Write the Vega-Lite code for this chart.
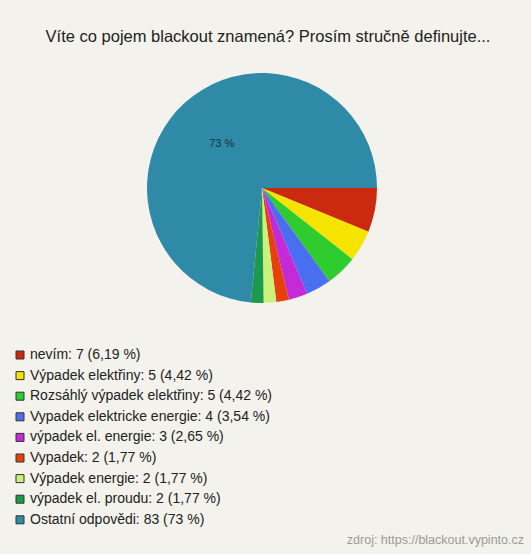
{
  "$schema": "https://vega.github.io/schema/vega-lite/v6.json",
  "background": "#f3f2ec",
  "padding": {"left": 0, "top": 28, "right": 7, "bottom": 9},
  "title": {
    "text": "Víte co pojem blackout znamená? Prosím stručně definujte...",
    "font": "Liberation Sans",
    "fontSize": 16.5,
    "fontWeight": "normal",
    "color": "#222222",
    "anchor": "middle",
    "offset": 13,
    "dx": 6
  },
  "config": {"view": {"stroke": null}, "font": "Liberation Sans"},
  "vconcat": [
    {
      "width": 524,
      "height": 260,
      "title": {
        "text": "zdroj: https://blackout.vypinto.cz",
        "orient": "bottom",
        "anchor": "end",
        "frame": "group",
        "font": "Liberation Sans",
        "fontSize": 12.5,
        "fontWeight": "normal",
        "color": "#9a9a9a",
        "offset": 216
      },
      "data": {
        "values": [
          {"idx": 1, "label": "nevím: 7 (6,19 %)", "count": 7, "lbl": ""},
          {"idx": 2, "label": "Výpadek elektřiny: 5 (4,42 %)", "count": 5, "lbl": ""},
          {"idx": 3, "label": "Rozsáhlý výpadek elektřiny: 5 (4,42 %)", "count": 5, "lbl": ""},
          {"idx": 4, "label": "Vypadek elektricke energie: 4 (3,54 %)", "count": 4, "lbl": ""},
          {"idx": 5, "label": "výpadek el. energie: 3 (2,65 %)", "count": 3, "lbl": ""},
          {"idx": 6, "label": "Vypadek: 2 (1,77 %)", "count": 2, "lbl": ""},
          {"idx": 7, "label": "Výpadek energie: 2 (1,77 %)", "count": 2, "lbl": ""},
          {"idx": 8, "label": "výpadek el. proudu: 2 (1,77 %)", "count": 2, "lbl": ""},
          {"idx": 9, "label": "Ostatní odpovědi: 83 (73 %)", "count": 83, "lbl": "73 %"}
        ]
      },
      "encoding": {
        "theta": {"field": "count", "type": "quantitative", "stack": true, "scale": {"range": [1.5708, 7.854]}},
        "order": {"field": "idx", "type": "quantitative"}
      },
      "layer": [
        {
          "mark": {"type": "arc", "outerRadius": 115},
          "encoding": {
            "color": {
              "field": "label",
              "type": "nominal",
              "sort": null,
              "scale": {
                "domain": [
                  "nevím: 7 (6,19 %)",
                  "Výpadek elektřiny: 5 (4,42 %)",
                  "Rozsáhlý výpadek elektřiny: 5 (4,42 %)",
                  "Vypadek elektricke energie: 4 (3,54 %)",
                  "výpadek el. energie: 3 (2,65 %)",
                  "Vypadek: 2 (1,77 %)",
                  "Výpadek energie: 2 (1,77 %)",
                  "výpadek el. proudu: 2 (1,77 %)",
                  "Ostatní odpovědi: 83 (73 %)"
                ],
                "range": ["#cc2a10", "#f5e400", "#2ecc2e", "#4a6ef0", "#c42ad8", "#e8400c", "#c8f27a", "#1a9a4a", "#2e8aa6"]
              },
              "legend": {
                "orient": "none",
                "legendX": 13,
                "legendY": 290,
                "title": null,
                "symbolType": "square",
                "symbolSize": 64,
                "symbolStrokeColor": "#333333",
                "symbolStrokeWidth": 1,
                "symbolOpacity": 1,
                "labelFont": "Liberation Sans",
                "labelFontSize": 14,
                "labelColor": "#222222",
                "labelOffset": 3,
                "labelLimit": 400,
                "rowPadding": 6.6
              }
            }
          }
        },
        {
          "mark": {"type": "text", "radius": 60, "fontSize": 11, "color": "#1b3440", "font": "Liberation Sans"},
          "encoding": {"text": {"field": "lbl", "type": "nominal"}}
        }
      ]
    }
  ]
}
